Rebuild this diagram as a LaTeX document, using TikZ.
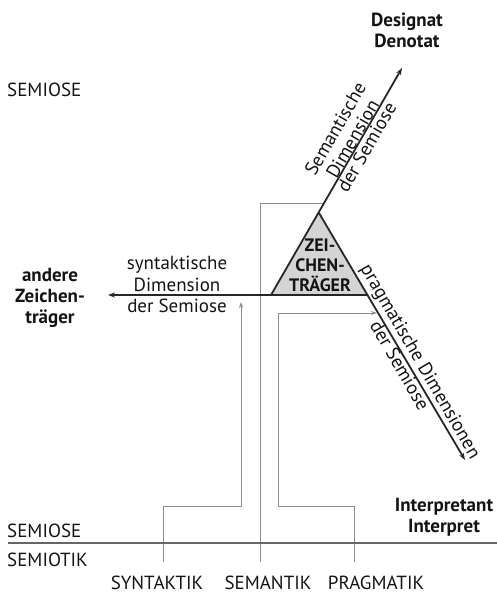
\documentclass[tikz,border=0pt]{standalone}
\usepackage{fontspec}
\setmainfont{PT Sans}
\usetikzlibrary{arrows.meta}
\begin{document}
\begin{tikzpicture}[x=1pt,y=-1pt,
  every node/.style={inner sep=1pt, text=black!92},
  lbl/.style={font=\fontsize{19}{22.5}\selectfont, align=center},
  rlbl/.style={font=\fontsize{19}{20}\selectfont, align=center},
  blbl/.style={font=\fontsize{19}{21}\selectfont\bfseries, align=center},
  tlbl/.style={font=\fontsize{18}{20}\selectfont\bfseries, align=center},
  axis/.style={line width=1.8pt, draw=black!85, -{Stealth[length=7pt,width=5pt]}},
  glink/.style={line width=0.9pt, draw=black!45},
  garrow/.style={glink, -{Stealth[length=6pt,width=4pt,fill=black!80]}}]
\useasboundingbox (0,0) rectangle (497,594);
% triangle corners
\coordinate (A) at (319,213);
\coordinate (BL) at (271,295);
\coordinate (BR) at (368,295);
\coordinate (D) at (402,68);
\coordinate (I) at (465,460);
\coordinate (Z) at (108,295);
\fill[black!17] (A) -- (BL) -- (BR) -- cycle;
\node[tlbl] (zt) at (320,265) {ZEI-\\CHEN-\\TRÄGER};
% gray links
\coordinate (s1) at (163,562);
\coordinate (s2) at (163,506);
\coordinate (s3) at (241,506);
\coordinate (s4) at (241,302);
\draw[garrow] (s1) -- (s2) -- (s3) -- (s4);
\coordinate (m1) at (260,562);
\coordinate (m2) at (260,203);
\coordinate (m3) at (324,203);
\draw[glink] (m1) -- (m2) -- (m3);
\coordinate (p1) at (354,562);
\coordinate (p2) at (354,506);
\coordinate (p3) at (278,506);
\coordinate (p4) at (278,313);
\coordinate (p5) at (377,313);
\draw[garrow] (p1) -- (p2) -- (p3) -- (p4) -- (p5);
% separator
\coordinate (h1) at (8,543);
\coordinate (h2) at (497,543);
\draw[line width=1.1pt, draw=black!60] (h1) -- (h2);
% axes
\draw[axis] (BR) -- (Z);
\draw[axis] (BL) -- (D);
\draw[axis] (A) -- (I);
% labels
\node[blbl] (des) at (407,30) {Designat\\Denotat};
\node[blbl] (int) at (444,517) {Interpretant\\Interpret};
\node[blbl] (and) at (50,298) {andere\\Zeichen-\\träger};
\node[lbl, anchor=south] (syn1) at (177,293) {syntaktische\\Dimension};
\node[lbl, anchor=north] (syn2) at (177,298) {der Semiose};
\coordinate (sp) at (359.5,143);
\node[rlbl, rotate=60, anchor=south] (sem1) at (sp) {Semantische\\Dimension};
\node[rlbl, rotate=60, anchor=north] (sem2) at (sp) {der Semiose};
\coordinate (pp1) at (411,367);
\coordinate (pp2) at (407,361);
\node[rlbl, rotate=-60, anchor=south] (prg1) at (pp1) {pragmatische Dimensionen};
\node[rlbl, rotate=-60, anchor=north] (prg2) at (pp2) {der Semiose};
\node[lbl, anchor=west] (se1) at (6,90) {SEMIOSE};
\node[lbl, anchor=west] (se2) at (6,531) {SEMIOSE};
\node[lbl, anchor=west] (se3) at (6,560) {SEMIOTIK};
\node[lbl] (k1) at (157,583) {SYNTAKTIK};
\node[lbl] (k2) at (268,583) {SEMANTIK};
\node[lbl] (k3) at (376,583) {PRAGMATIK};
\end{tikzpicture}
\end{document}
